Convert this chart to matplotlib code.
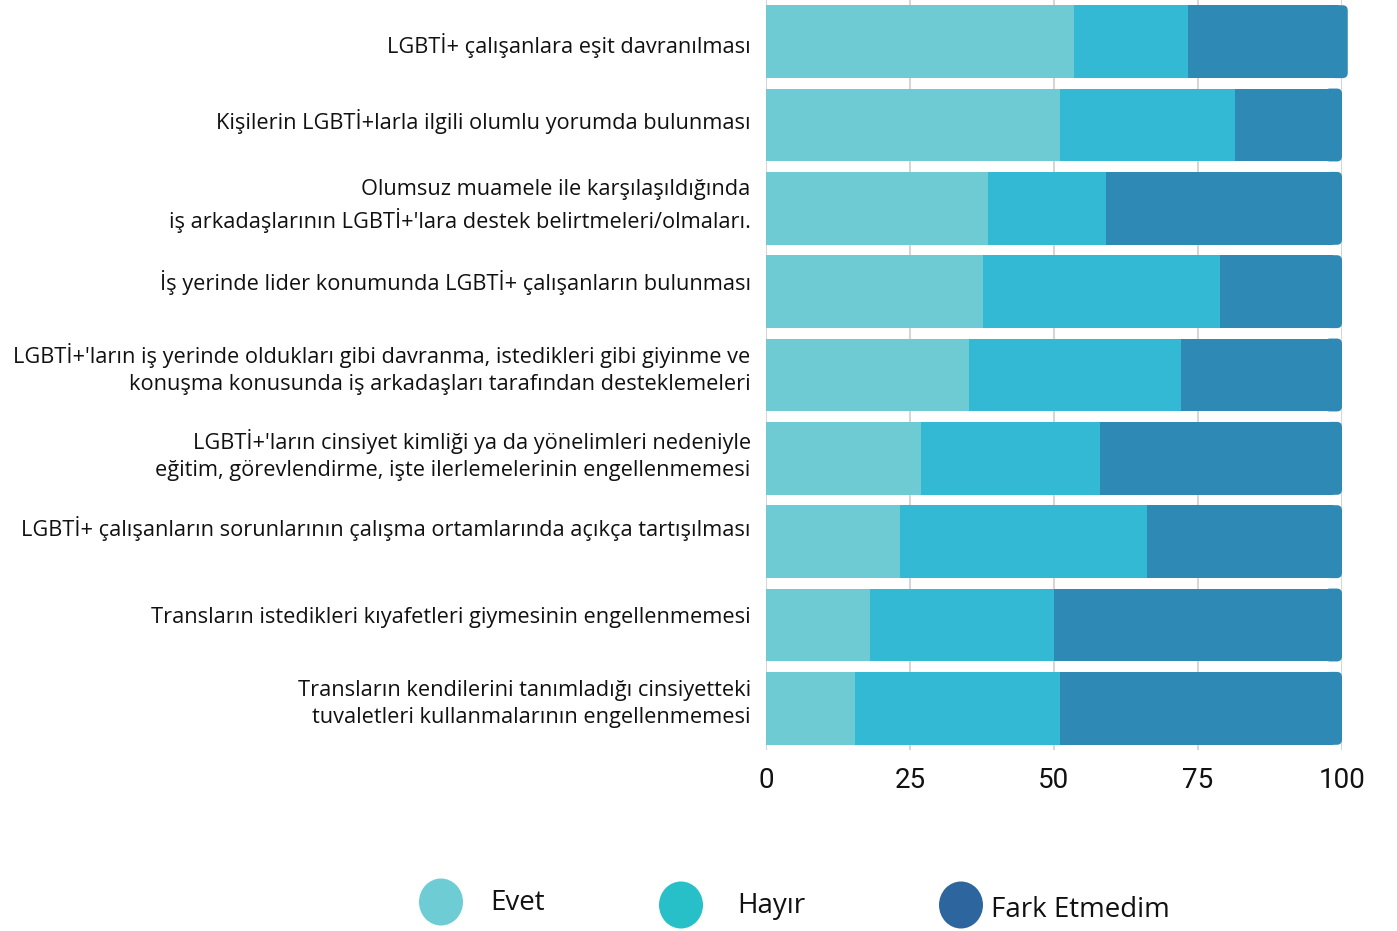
import matplotlib.pyplot as plt
import matplotlib.transforms as mtransforms
from matplotlib.patches import FancyBboxPatch, Ellipse

# Data (percentages)
labels = [
    "LGBTİ+ çalışanlara eşit davranılması",
    "Kişilerin LGBTİ+larla ilgili olumlu yorumda bulunması",
    "Olumsuz muamele ile karşılaşıldığında\niş arkadaşlarının LGBTİ+'lara destek belirtmeleri/olmaları.",
    "İş yerinde lider konumunda LGBTİ+ çalışanların bulunması",
    "LGBTİ+'ların iş yerinde oldukları gibi davranma, istedikleri gibi giyinme ve\nkonuşma konusunda iş arkadaşları tarafından desteklemeleri",
    "LGBTİ+'ların cinsiyet kimliği ya da yönelimleri nedeniyle\neğitim, görevlendirme, işte ilerlemelerinin engellenmemesi",
    "LGBTİ+ çalışanların sorunlarının çalışma ortamlarında açıkça tartışılması",
    "Transların istedikleri kıyafetleri giymesinin engellenmemesi",
    "Transların kendilerini tanımladığı cinsiyetteki\ntuvaletleri kullanmalarının engellenmemesi",
]
evet = [53.5, 51.0, 38.5, 37.7, 35.2, 26.9, 23.3, 18.1, 15.5]
hayir = [19.8, 30.4, 20.5, 41.1, 36.8, 31.1, 42.8, 31.9, 35.5]
fark = [27.7, 18.6, 41.0, 21.2, 28.0, 42.0, 33.9, 50.0, 49.0]
series_names = ["Evet", "Hayır", "Fark Etmedim"]
xticks = [0, 25, 50, 75, 100]

bar_colors = ["#6ECBD3", "#33B9D3", "#2E8AB5"]
legend_colors = ["#6ECCD4", "#27BFC8", "#2D659E"]
label_font = "Open Sans"

# vertical nudge of each label in pixels (positive = down), as in the original layout
label_nudge = [1, -6, -9, -12, -12, -9, -16, -10, -10]

fig = plt.figure(figsize=(13.97, 9.31), dpi=100)
ax = fig.add_axes([766 / 1397, 1 - 750 / 931, 576 / 1397, 750 / 931])

ypos = list(range(len(labels)))
h = 0.875

left2 = [e + hy for e, hy in zip(evet, hayir)]
ax.barh(ypos, evet, height=h, color=bar_colors[0], zorder=3)
ax.barh(ypos, hayir, left=evet, height=h, color=bar_colors[1], zorder=3)
fbars = ax.barh(ypos, [f - 1.5 for f in fark], left=left2, height=h, color=bar_colors[2], zorder=3)
for b in fbars:
    b.set_clip_on(False)

# rounded right-hand cap on each bar
for y, l, f in zip(ypos, left2, fark):
    cap = FancyBboxPatch((l + f - 3, y - h / 2), 3, h,
                         boxstyle="round,pad=0,rounding_size=0.9",
                         mutation_aspect=0.07,
                         fc=bar_colors[2], ec="none", lw=0, zorder=4, clip_on=False)
    ax.add_patch(cap)

ax.set_xlim(0, 100)
ax.set_ylim(len(labels) - 0.5, -0.5)
ax.set_xticks(xticks)
ax.set_xticklabels([str(t) for t in xticks], fontsize=20, family="Roboto", color="#111111")
ax.set_yticks(ypos)
ax.set_yticklabels(labels, fontsize=15.7, family=label_font, weight=500,
                   color="#111111", linespacing=1.4)
ax.tick_params(axis="x", length=0, pad=12)
ax.tick_params(axis="y", length=0, pad=11)
for t, dy in zip(ax.get_yticklabels(), label_nudge):
    shift = mtransforms.ScaledTranslation(0, -dy / 100, fig.dpi_scale_trans)
    t.set_transform(t.get_transform() + shift)
ax.grid(axis="x", color="#d6d6d6", lw=1.5, zorder=0)
ax.set_axisbelow(True)
for s in ax.spines.values():
    s.set_visible(False)

# legend drawn manually
lax = fig.add_axes([0, 0, 1, 1], zorder=-1)
lax.set_xlim(0, 1397)
lax.set_ylim(931, 0)
lax.axis("off")
circle_x = [441, 681, 961]
circle_y = [902, 905, 905]
text_x = [490, 737, 991]
text_y = [903, 906, 910]
for cx, cy, tx, ty, name, c in zip(circle_x, circle_y, text_x, text_y, series_names, legend_colors):
    lax.add_patch(Ellipse((cx, cy), 44, 47, fc=c, ec="none"))
    lax.text(tx, ty, name, fontsize=20, family=label_font, weight=500,
             color="#111111", va="center", ha="left")

fig.savefig("out.png", dpi=100, facecolor="white")
